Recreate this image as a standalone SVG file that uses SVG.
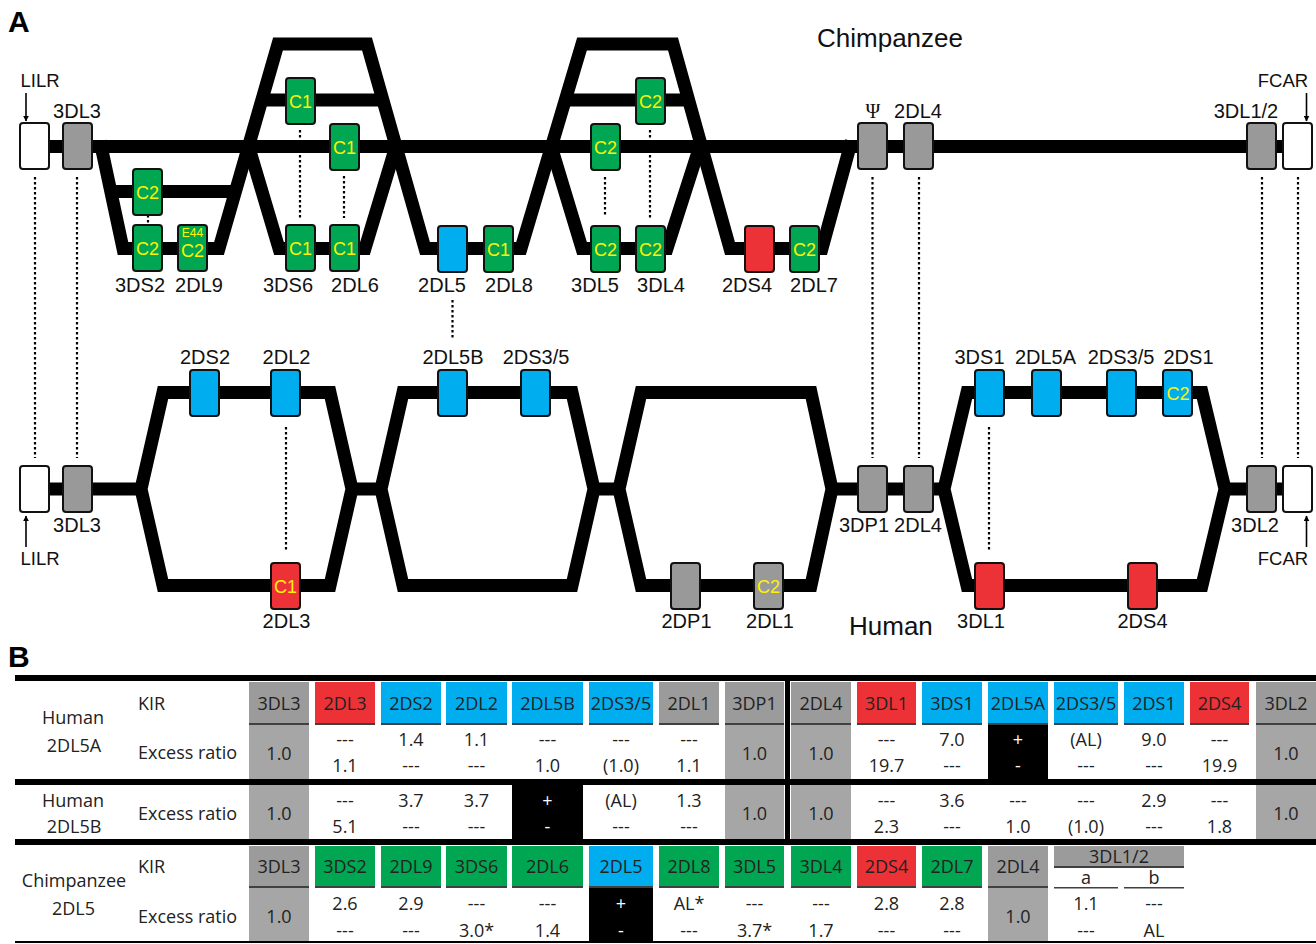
<svg xmlns="http://www.w3.org/2000/svg" width="1316" height="944" viewBox="0 0 1316 944">
<defs>
<style>
.bx{stroke:#111;stroke-width:2}
.w{fill:#fff}.g{fill:#999}.gr{fill:#00a651}.bl{fill:#00aeef}.rd{fill:#ed3237}
.bb{fill:none;stroke:#000;stroke-width:13;stroke-linejoin:miter;stroke-miterlimit:10}
.dot{stroke:#000;stroke-width:2.2;stroke-dasharray:2.5 2.5;fill:none}
.arr{stroke:#000;stroke-width:1.6;fill:none}
.lb{font-family:"Liberation Sans",Arial,sans-serif;font-size:20px;fill:#111;text-anchor:middle}
.sm{font-size:18.5px}
.cx{font-family:"Liberation Sans",Arial,sans-serif;font-size:18px;fill:#fff200;text-anchor:middle}
.tt{font-family:"Open Sans","Noto Sans",sans-serif;font-size:18px;fill:#222;text-anchor:middle}
.tl{text-anchor:start}
.wt{fill:#fff}
.hg{fill:#9b9b9b}.lg{fill:#a6a6a6}.ul{fill:#404040}.bk{fill:#000}
.thg{fill:#00a651}.tbl{fill:#00aeef}.trd{fill:#ed3237}
</style>
<marker id="ah" viewBox="0 0 10 10" refX="9" refY="5" markerWidth="6" markerHeight="6" orient="auto" markerUnits="userSpaceOnUse">
<path d="M0,0 L10,5 L0,10 z" fill="#000"/>
</marker>
</defs>
<rect width="1316" height="944" fill="#fff"/>

<text x="8" y="32" font-family="Liberation Sans,Arial,sans-serif" font-size="30" font-weight="bold">A</text>
<text x="8" y="667" font-family="Liberation Sans,Arial,sans-serif" font-size="30" font-weight="bold">B</text>
<text x="817" y="47" font-family="Liberation Sans,Arial,sans-serif" font-size="26" fill="#111">Chimpanzee</text>
<text x="849" y="635" font-family="Liberation Sans,Arial,sans-serif" font-size="26" fill="#111">Human</text>

<g id="backbone">
<path class="bb" d="M49,146.5 H1283"/>
<path class="bb" d="M100,141 L123,248.5 L219,248.5 L278,44 L367,44 L425,248.5 L521,248.5 L582,44 L673,44 L730,248.5 L822,248.5 L851.5,141"/>
<path class="bb" d="M247,141 L279,248.5 L365,248.5 L397.5,141"/>
<path class="bb" d="M549.5,141 L582,248.5 L667,248.5 L701.5,141"/>
<path class="bb" d="M108,191.5 H236 M262,100 H382 M565,100 H689"/>
<path class="bb" d="M49,489 H141 M352,489 H381 M594,489 H619 M832,489 H944 M1225,489 H1283"/>
<polygon class="bb" points="141,489 163,392.5 330,392.5 352,489 330,585.5 163,585.5"/>
<polygon class="bb" points="381,489 403,392.5 572,392.5 594,489 572,585.5 403,585.5"/>
<polygon class="bb" points="619,489 641,392.5 811,392.5 832,489 811,585.5 641,585.5"/>
<polygon class="bb" points="944,489 967,392.5 1202,392.5 1225,489 1202,585.5 967,585.5"/>
</g>

<g id="connectors">
<path class="dot" d="M35,177 V458 M77,177 V458 M872.5,177 V458 M919,177 V458 M1262,177 V458 M1298,177 V458"/>
<path class="dot" d="M452.5,300 V338 M148,215 V225 M300,130 V220 M344,176 V218 M605,177 V216 M650,130 V218 M286,427 V552 M989,427 V552"/>
<path class="arr" d="M26,93 V121" marker-end="url(#ah)"/>
<path class="arr" d="M1306.5,93 V121" marker-end="url(#ah)"/>
<path class="arr" d="M26,547 V516" marker-end="url(#ah)"/>
<path class="arr" d="M1306.5,547 V516" marker-end="url(#ah)"/>
</g>

<!-- Chimpanzee nodes -->
<g id="c-LILR"><rect class="bx w" x="20" y="123" width="29" height="46" rx="3"/><text class="lb sm" x="40" y="87">LILR</text></g>
<g id="c-3DL3"><rect class="bx g" x="63" y="123" width="29" height="46" rx="3"/><text class="lb" x="77" y="118">3DL3</text></g>
<g id="c-C2up"><rect class="bx gr" x="133" y="169" width="29" height="46" rx="3"/><text class="cx" x="147.5" y="198.5">C2</text></g>
<g id="c-3DS2"><rect class="bx gr" x="133" y="225" width="29" height="46" rx="3"/><text class="cx" x="147.5" y="254.5">C2</text><text class="lb" x="140" y="292">3DS2</text></g>
<g id="c-2DL9"><rect class="bx gr" x="178" y="225" width="29" height="46" rx="3"/><text class="cx" x="192.5" y="237" style="font-size:12px">E44</text><text class="cx" x="192.5" y="257">C2</text><text class="lb" x="199" y="292">2DL9</text></g>
<g id="c-C1up"><rect class="bx gr" x="286" y="78" width="29" height="46" rx="3"/><text class="cx" x="300.5" y="107.5">C1</text></g>
<g id="c-C1main"><rect class="bx gr" x="330" y="124" width="29" height="46" rx="3"/><text class="cx" x="344.5" y="153.5">C1</text></g>
<g id="c-3DS6"><rect class="bx gr" x="286" y="225" width="29" height="46" rx="3"/><text class="cx" x="300.5" y="254.5">C1</text><text class="lb" x="288" y="292">3DS6</text></g>
<g id="c-2DL6"><rect class="bx gr" x="330" y="225" width="29" height="46" rx="3"/><text class="cx" x="344.5" y="254.5">C1</text><text class="lb" x="355" y="292">2DL6</text></g>
<g id="c-2DL5"><rect class="bx bl" x="438" y="226" width="29" height="46" rx="3"/><text class="lb" x="442" y="292">2DL5</text></g>
<g id="c-2DL8"><rect class="bx gr" x="484" y="226" width="29" height="46" rx="3"/><text class="cx" x="498.5" y="255.5">C1</text><text class="lb" x="509" y="292">2DL8</text></g>
<g id="c-C2up2"><rect class="bx gr" x="636" y="78" width="29" height="46" rx="3"/><text class="cx" x="650.5" y="107.5">C2</text></g>
<g id="c-C2main"><rect class="bx gr" x="591" y="124" width="29" height="46" rx="3"/><text class="cx" x="605.5" y="153.5">C2</text></g>
<g id="c-3DL5"><rect class="bx gr" x="591" y="226" width="29" height="46" rx="3"/><text class="cx" x="605.5" y="255.5">C2</text><text class="lb" x="595" y="292">3DL5</text></g>
<g id="c-3DL4"><rect class="bx gr" x="636" y="226" width="29" height="46" rx="3"/><text class="cx" x="650.5" y="255.5">C2</text><text class="lb" x="661" y="292">3DL4</text></g>
<g id="c-2DS4"><rect class="bx rd" x="745" y="226" width="29" height="46" rx="3"/><text class="lb" x="747" y="292">2DS4</text></g>
<g id="c-2DL7"><rect class="bx gr" x="790" y="226" width="29" height="46" rx="3"/><text class="cx" x="804.5" y="255.5">C2</text><text class="lb" x="814" y="292">2DL7</text></g>
<g id="c-psi"><rect class="bx g" x="858" y="123" width="29" height="46" rx="3"/><text class="lb" x="873" y="118" style="font-family:'Liberation Serif',serif">Ψ</text></g>
<g id="c-2DL4"><rect class="bx g" x="904" y="123" width="29" height="46" rx="3"/><text class="lb" x="918" y="118">2DL4</text></g>
<g id="c-3DL12"><rect class="bx g" x="1247" y="123" width="29" height="46" rx="3"/><text class="lb" x="1246" y="118">3DL1/2</text></g>
<g id="c-FCAR"><rect class="bx w" x="1283" y="123" width="29" height="46" rx="3"/><text class="lb sm" x="1283" y="87">FCAR</text></g>

<!-- Human nodes -->
<g id="h-LILR"><rect class="bx w" x="20" y="466" width="29" height="46" rx="3"/><text class="lb sm" x="40" y="565">LILR</text></g>
<g id="h-3DL3"><rect class="bx g" x="63" y="466" width="29" height="46" rx="3"/><text class="lb" x="77" y="532">3DL3</text></g>
<g id="h-2DS2"><rect class="bx bl" x="190" y="370" width="29" height="46" rx="3"/><text class="lb" x="205" y="364">2DS2</text></g>
<g id="h-2DL2"><rect class="bx bl" x="271" y="370" width="29" height="46" rx="3"/><text class="lb" x="286.5" y="364">2DL2</text></g>
<g id="h-2DL3"><rect class="bx rd" x="271" y="563" width="29" height="46" rx="3"/><text class="cx" x="285.5" y="592.5">C1</text><text class="lb" x="286.5" y="628">2DL3</text></g>
<g id="h-2DL5B"><rect class="bx bl" x="438" y="370" width="29" height="46" rx="3"/><text class="lb" x="453" y="364">2DL5B</text></g>
<g id="h-2DS35a"><rect class="bx bl" x="521" y="370" width="29" height="46" rx="3"/><text class="lb" x="536" y="364">2DS3/5</text></g>
<g id="h-2DP1"><rect class="bx g" x="671" y="563" width="29" height="46" rx="3"/><text class="lb" x="686.5" y="628">2DP1</text></g>
<g id="h-2DL1"><rect class="bx g" x="754" y="563" width="29" height="46" rx="3"/><text class="cx" x="768.5" y="592.5">C2</text><text class="lb" x="770" y="628">2DL1</text></g>
<g id="h-3DP1"><rect class="bx g" x="858" y="466" width="29" height="46" rx="3"/><text class="lb" x="864" y="532">3DP1</text></g>
<g id="h-2DL4"><rect class="bx g" x="904" y="466" width="29" height="46" rx="3"/><text class="lb" x="918" y="532">2DL4</text></g>
<g id="h-3DS1"><rect class="bx bl" x="975" y="370" width="29" height="46" rx="3"/><text class="lb" x="979.5" y="364">3DS1</text></g>
<g id="h-2DL5A"><rect class="bx bl" x="1032" y="370" width="29" height="46" rx="3"/><text class="lb" x="1045.5" y="364">2DL5A</text></g>
<g id="h-2DS35b"><rect class="bx bl" x="1107" y="370" width="29" height="46" rx="3"/><text class="lb" x="1121" y="364">2DS3/5</text></g>
<g id="h-2DS1"><rect class="bx bl" x="1163" y="370" width="29" height="46" rx="3"/><text class="cx" x="1178" y="400">C2</text><text class="lb" x="1188.5" y="364">2DS1</text></g>
<g id="h-3DL1"><rect class="bx rd" x="975" y="563" width="29" height="46" rx="3"/><text class="lb" x="981" y="628">3DL1</text></g>
<g id="h-2DS4"><rect class="bx rd" x="1128" y="563" width="29" height="46" rx="3"/><text class="lb" x="1142.5" y="628">2DS4</text></g>
<g id="h-3DL2"><rect class="bx g" x="1247" y="466" width="29" height="46" rx="3"/><text class="lb" x="1255" y="532">3DL2</text></g>
<g id="h-FCAR"><rect class="bx w" x="1283" y="466" width="29" height="46" rx="3"/><text class="lb sm" x="1283" y="565">FCAR</text></g>

<!-- Table B -->
<g id="table">
<rect class="bk" x="15" y="675" width="1301" height="6"/>
<rect class="bk" x="15" y="779" width="1301" height="6"/>
<rect class="bk" x="15" y="839" width="1301" height="6"/>
<rect class="bk" x="15" y="941" width="1301" height="2"/>
<rect class="bk" x="785" y="681" width="5" height="158"/>

<g id="r1-head">
<rect class="hg" x="249" y="682" width="60" height="41"/>
<rect class="trd" x="315" y="682" width="60" height="41"/>
<rect class="tbl" x="381" y="682" width="60" height="41"/>
<rect class="tbl" x="446" y="682" width="61" height="41"/>
<rect class="tbl" x="512" y="682" width="71" height="41"/>
<rect class="tbl" x="589" y="682" width="64" height="41"/>
<rect class="hg" x="659" y="682" width="60" height="41"/>
<rect class="hg" x="725" y="682" width="59" height="41"/>
<rect class="hg" x="791" y="682" width="60" height="41"/>
<rect class="trd" x="857" y="682" width="59" height="41"/>
<rect class="tbl" x="922" y="682" width="60" height="41"/>
<rect class="tbl" x="988" y="682" width="60" height="41"/>
<rect class="tbl" x="1054" y="682" width="64" height="41"/>
<rect class="tbl" x="1124" y="682" width="60" height="41"/>
<rect class="trd" x="1190" y="682" width="59" height="41"/>
<rect class="hg" x="1256" y="682" width="60" height="41"/>
<path class="ul" d="M249,723h60v2h-60z M315,723h60v2h-60z M381,723h60v2h-60z M446,723h61v2h-61z M512,723h71v2h-71z M589,723h64v2h-64z M659,723h60v2h-60z M725,723h59v2h-59z M791,723h60v2h-60z M857,723h59v2h-59z M922,723h60v2h-60z M988,723h60v2h-60z M1054,723h64v2h-64z M1124,723h60v2h-60z M1190,723h59v2h-59z M1256,723h60v2h-60z"/>
<rect class="lg" x="249" y="725" width="60" height="54"/>
<rect class="lg" x="725" y="725" width="59" height="54"/>
<rect class="lg" x="791" y="725" width="60" height="54"/>
<rect class="lg" x="1256" y="725" width="60" height="54"/>
<rect class="bk" x="988" y="725" width="60" height="54"/>
</g>
<g id="r2-cells">
<rect class="lg" x="249" y="785" width="60" height="54"/>
<rect class="lg" x="725" y="785" width="59" height="54"/>
<rect class="lg" x="791" y="785" width="60" height="54"/>
<rect class="lg" x="1256" y="785" width="60" height="54"/>
<rect class="bk" x="512" y="785" width="71" height="54"/>
</g>
<g id="r3-head">
<rect class="hg" x="249" y="846" width="60" height="40"/>
<rect class="thg" x="315" y="846" width="60" height="40"/>
<rect class="thg" x="381" y="846" width="60" height="40"/>
<rect class="thg" x="446" y="846" width="61" height="40"/>
<rect class="thg" x="512" y="846" width="71" height="40"/>
<rect class="tbl" x="589" y="846" width="64" height="40"/>
<rect class="thg" x="659" y="846" width="60" height="40"/>
<rect class="thg" x="725" y="846" width="59" height="40"/>
<rect class="thg" x="791" y="846" width="60" height="40"/>
<rect class="trd" x="857" y="846" width="59" height="40"/>
<rect class="thg" x="922" y="846" width="60" height="40"/>
<rect class="hg" x="988" y="846" width="60" height="40"/>
<rect class="hg" x="1054" y="846" width="130" height="20"/>
<path class="ul" d="M249,886h60v2h-60z M315,886h60v2h-60z M381,886h60v2h-60z M446,886h61v2h-61z M512,886h71v2h-71z M589,886h64v2h-64z M659,886h60v2h-60z M725,886h59v2h-59z M791,886h60v2h-60z M857,886h59v2h-59z M922,886h60v2h-60z M988,886h60v2h-60z M1054,866h130v2h-130z M1054,887h64v1.5h-64z M1124,887h60v1.5h-60z"/>
<rect class="lg" x="249" y="888" width="60" height="53"/>
<rect class="lg" x="988" y="888" width="60" height="53"/>
<rect class="bk" x="589" y="888" width="64" height="53"/>
</g>

<g id="table-text">
<text class="tt" x="73" y="724">Human</text>
<text class="tt" x="74" y="752">2DL5A</text>
<text class="tt tl" x="138" y="710">KIR</text>
<text class="tt tl" x="138" y="759">Excess ratio</text>
<text class="tt" x="73" y="807">Human</text>
<text class="tt" x="74" y="833">2DL5B</text>
<text class="tt tl" x="138" y="820">Excess ratio</text>
<text class="tt" x="74" y="887">Chimpanzee</text>
<text class="tt" x="73.5" y="915">2DL5</text>
<text class="tt tl" x="138" y="873">KIR</text>
<text class="tt tl" x="138" y="923">Excess ratio</text>

<text class="tt" x="279" y="710">3DL3</text><text class="tt" x="345" y="710">2DL3</text><text class="tt" x="411" y="710">2DS2</text><text class="tt" x="476.5" y="710">2DL2</text><text class="tt" x="547.5" y="710">2DL5B</text><text class="tt" x="621" y="710">2DS3/5</text><text class="tt" x="689" y="710">2DL1</text><text class="tt" x="754.5" y="710">3DP1</text><text class="tt" x="821" y="710">2DL4</text><text class="tt" x="886.5" y="710">3DL1</text><text class="tt" x="952" y="710">3DS1</text><text class="tt" x="1018" y="710">2DL5A</text><text class="tt" x="1086" y="710">2DS3/5</text><text class="tt" x="1154" y="710">2DS1</text><text class="tt" x="1219.5" y="710">2DS4</text><text class="tt" x="1286" y="710">3DL2</text>

<text class="tt" x="279" y="760">1.0</text><text class="tt" x="754.5" y="760">1.0</text><text class="tt" x="821" y="760">1.0</text><text class="tt" x="1286" y="760">1.0</text>
<text class="tt" x="345" y="746">---</text><text class="tt" x="345" y="772">1.1</text>
<text class="tt" x="411" y="746">1.4</text><text class="tt" x="411" y="772">---</text>
<text class="tt" x="476.5" y="746">1.1</text><text class="tt" x="476.5" y="772">---</text>
<text class="tt" x="547.5" y="746">---</text><text class="tt" x="547.5" y="772">1.0</text>
<text class="tt" x="621" y="746">---</text><text class="tt" x="621" y="772">(1.0)</text>
<text class="tt" x="689" y="746">---</text><text class="tt" x="689" y="772">1.1</text>
<text class="tt" x="886.5" y="746">---</text><text class="tt" x="886.5" y="772">19.7</text>
<text class="tt" x="952" y="746">7.0</text><text class="tt" x="952" y="772">---</text>
<text class="tt wt" x="1018" y="746">+</text><text class="tt wt" x="1018" y="772">-</text>
<text class="tt" x="1086" y="746">(AL)</text><text class="tt" x="1086" y="772">---</text>
<text class="tt" x="1154" y="746">9.0</text><text class="tt" x="1154" y="772">---</text>
<text class="tt" x="1219.5" y="746">---</text><text class="tt" x="1219.5" y="772">19.9</text>

<text class="tt" x="279" y="820">1.0</text><text class="tt" x="754.5" y="820">1.0</text><text class="tt" x="821" y="820">1.0</text><text class="tt" x="1286" y="820">1.0</text>
<text class="tt" x="345" y="807">---</text><text class="tt" x="345" y="833">5.1</text>
<text class="tt" x="411" y="807">3.7</text><text class="tt" x="411" y="833">---</text>
<text class="tt" x="476.5" y="807">3.7</text><text class="tt" x="476.5" y="833">---</text>
<text class="tt wt" x="547.5" y="807">+</text><text class="tt wt" x="547.5" y="833">-</text>
<text class="tt" x="621" y="807">(AL)</text><text class="tt" x="621" y="833">---</text>
<text class="tt" x="689" y="807">1.3</text><text class="tt" x="689" y="833">---</text>
<text class="tt" x="886.5" y="807">---</text><text class="tt" x="886.5" y="833">2.3</text>
<text class="tt" x="952" y="807">3.6</text><text class="tt" x="952" y="833">---</text>
<text class="tt" x="1018" y="807">---</text><text class="tt" x="1018" y="833">1.0</text>
<text class="tt" x="1086" y="807">---</text><text class="tt" x="1086" y="833">(1.0)</text>
<text class="tt" x="1154" y="807">2.9</text><text class="tt" x="1154" y="833">---</text>
<text class="tt" x="1219.5" y="807">---</text><text class="tt" x="1219.5" y="833">1.8</text>

<text class="tt" x="279" y="873">3DL3</text><text class="tt" x="345" y="873">3DS2</text><text class="tt" x="411" y="873">2DL9</text><text class="tt" x="476.5" y="873">3DS6</text><text class="tt" x="547.5" y="873">2DL6</text><text class="tt" x="621" y="873">2DL5</text><text class="tt" x="689" y="873">2DL8</text><text class="tt" x="754.5" y="873">3DL5</text><text class="tt" x="821" y="873">3DL4</text><text class="tt" x="886.5" y="873">2DS4</text><text class="tt" x="952" y="873">2DL7</text><text class="tt" x="1018" y="873">2DL4</text>
<text class="tt" x="1119" y="863">3DL1/2</text>
<text class="tt" x="1086" y="884">a</text><text class="tt" x="1154" y="884">b</text>

<text class="tt" x="279" y="923">1.0</text><text class="tt" x="1018" y="923">1.0</text>
<text class="tt" x="345" y="910">2.6</text><text class="tt" x="345" y="937">---</text>
<text class="tt" x="411" y="910">2.9</text><text class="tt" x="411" y="937">---</text>
<text class="tt" x="476.5" y="910">---</text><text class="tt" x="476.5" y="937">3.0*</text>
<text class="tt" x="547.5" y="910">---</text><text class="tt" x="547.5" y="937">1.4</text>
<text class="tt wt" x="621" y="910">+</text><text class="tt wt" x="621" y="937">-</text>
<text class="tt" x="689" y="910">AL*</text><text class="tt" x="689" y="937">---</text>
<text class="tt" x="754.5" y="910">---</text><text class="tt" x="754.5" y="937">3.7*</text>
<text class="tt" x="821" y="910">---</text><text class="tt" x="821" y="937">1.7</text>
<text class="tt" x="886.5" y="910">2.8</text><text class="tt" x="886.5" y="937">---</text>
<text class="tt" x="952" y="910">2.8</text><text class="tt" x="952" y="937">---</text>
<text class="tt" x="1086" y="910">1.1</text><text class="tt" x="1086" y="937">---</text>
<text class="tt" x="1154" y="910">---</text><text class="tt" x="1154" y="937">AL</text>
</g>
</g>
</svg>
